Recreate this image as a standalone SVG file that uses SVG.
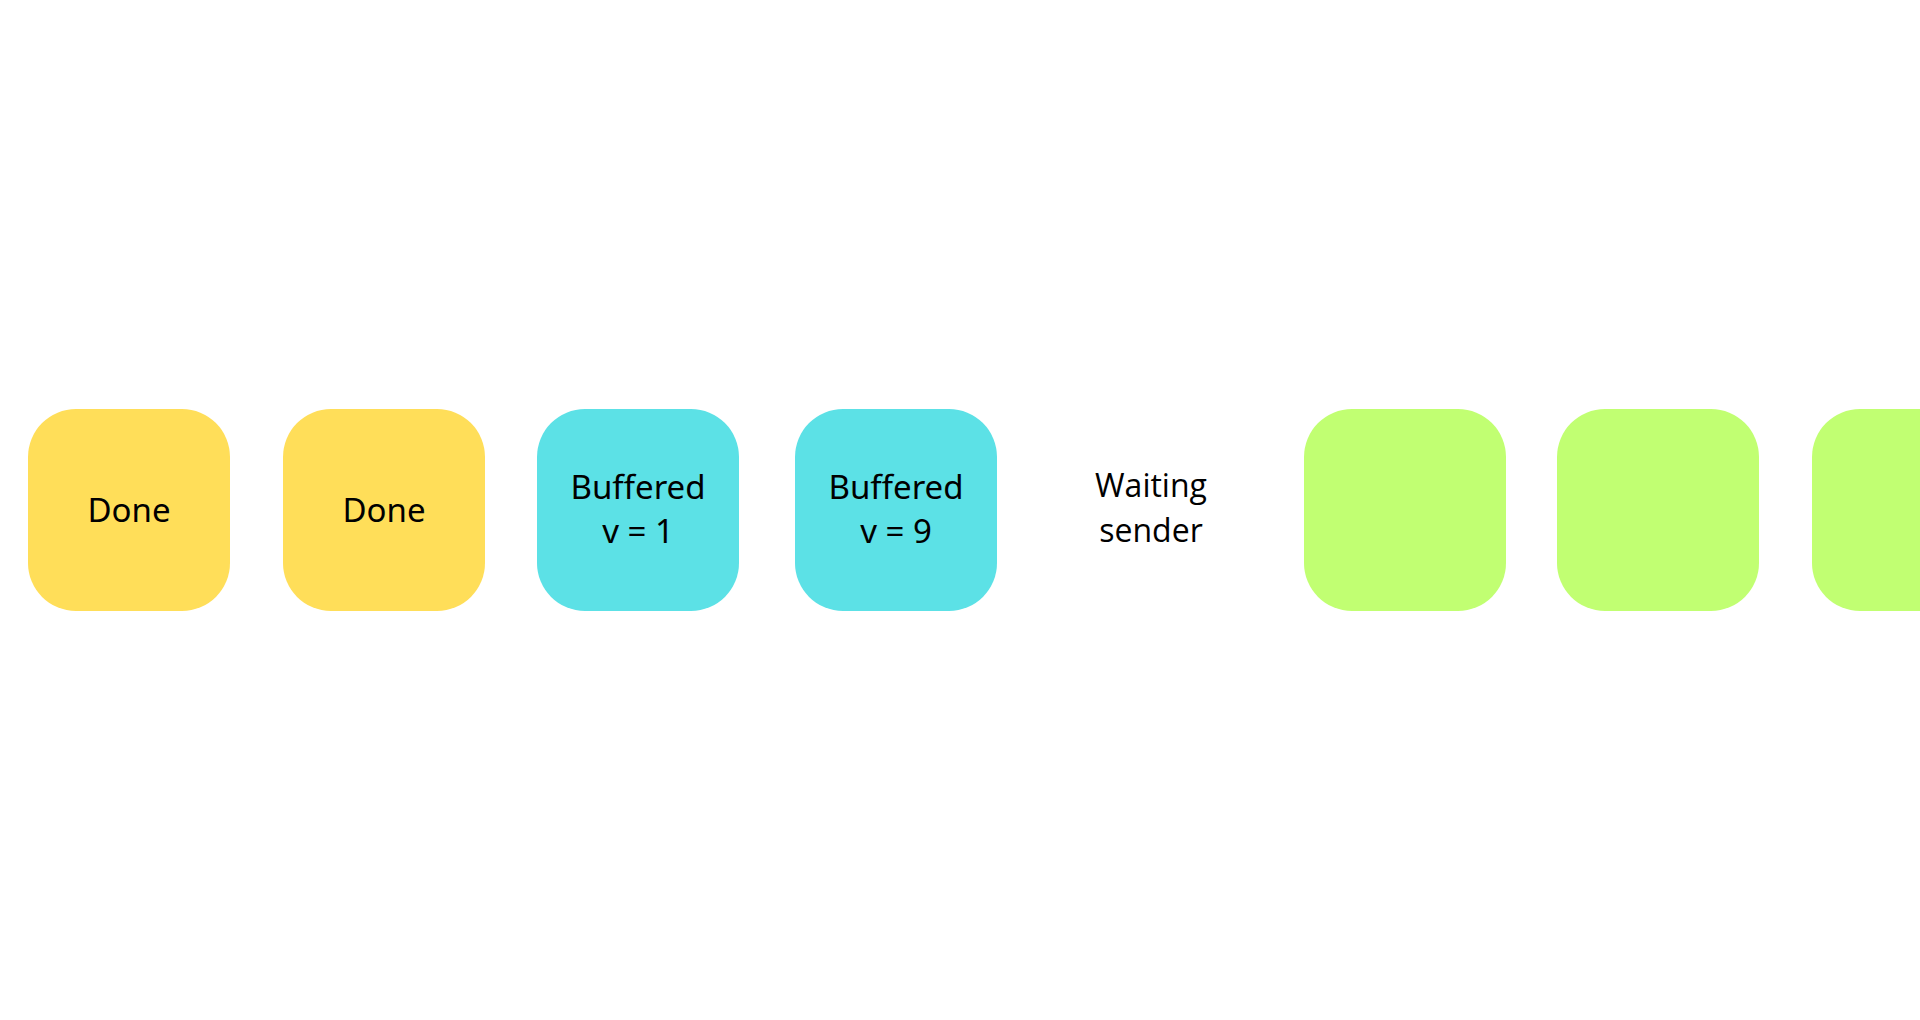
<svg xmlns="http://www.w3.org/2000/svg" width="1920" height="1020" viewBox="0 0 1920 1020">
<style>
.box{stroke:none}
.done{fill:#FFDE59}
.buf{fill:#5CE1E6}
.free{fill:#C1FF72}
.t{font-family:"Noto Sans","Lato",sans-serif;font-size:33px;fill:#000;text-anchor:middle}
.w{font-family:"Open Sans","Noto Sans",sans-serif;font-size:32px;fill:#000;text-anchor:middle}
</style>
<rect width="1920" height="1020" fill="#FFFFFF"/>
<g id="connectors"></g>
<g id="node-done-1"><rect class="box done" x="28" y="409" width="202" height="202" rx="48" ry="48"/><text class="t" x="129" y="522">Done</text></g>
<g id="node-done-2"><rect class="box done" x="283" y="409" width="202" height="202" rx="48" ry="48"/><text class="t" x="384" y="522">Done</text></g>
<g id="node-buffered-1"><rect class="box buf" x="537" y="409" width="202" height="202" rx="48" ry="48"/><text class="t" x="638" y="499">Buffered</text><text class="t" x="638" y="543">v = 1</text></g>
<g id="node-buffered-9"><rect class="box buf" x="795" y="409" width="202" height="202" rx="48" ry="48"/><text class="t" x="896" y="499">Buffered</text><text class="t" x="896" y="543">v = 9</text></g>
<g id="node-waiting"><text class="w" x="1151" y="497">Waiting</text><text class="w" x="1151" y="542">sender</text></g>
<g id="node-empty-1"><rect class="box free" x="1304" y="409" width="202" height="202" rx="48" ry="48"/></g>
<g id="node-empty-2"><rect class="box free" x="1557" y="409" width="202" height="202" rx="48" ry="48"/></g>
<g id="node-empty-3"><rect class="box free" x="1812" y="409" width="202" height="202" rx="48" ry="48"/></g>
</svg>
